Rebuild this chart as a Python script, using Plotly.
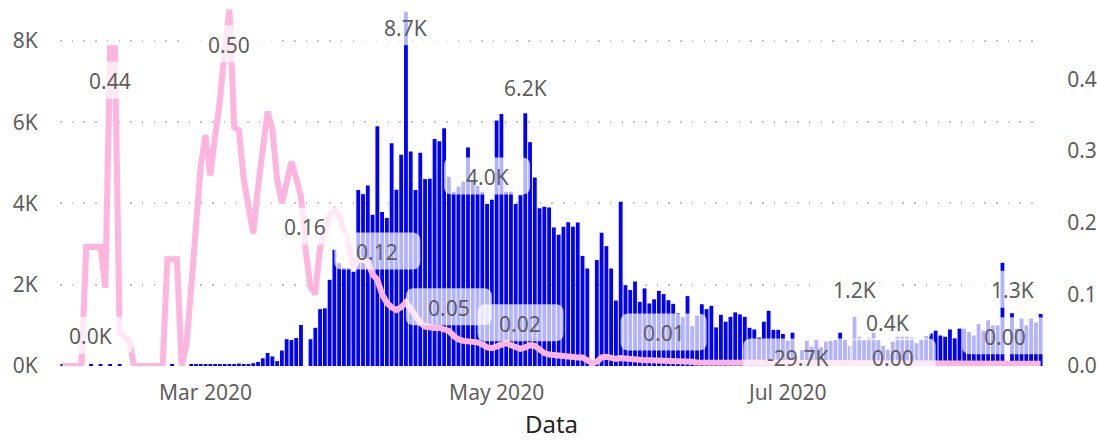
import pandas as pd
import plotly.graph_objects as go

# Daily new cases, one value per day starting 31 Jan 2020
daily_cases = [
    45, 0, 0, 45, 0, 0, 45, 0, 45, 0,
    45, 0, 45, 0, 0, 0, 0, 0, 0, 0,
    0, 0, 0, 45, 0, 0, 0, 40, 40, 45,
    45, 45, 45, 45, 45, 50, 50, 60, 40, 50,
    70, 100, 190, 320, 235, 120, 380, 660, 640, 690,
    1010, 0, 660, 940, 1400, 1420, 2120, 2860, 2530, 2410,
    2410, 2320, 4330, 4230, 4440, 3720, 5900, 3790, 3640, 5480,
    4340, 5200, 8720, 5280, 4330, 5250, 4600, 4610, 5590, 5530,
    5850, 4660, 4290, 4420, 4540, 5380, 4540, 4430, 4290, 3990,
    4090, 6040, 6200, 4290, 4290, 3990, 4200, 6220, 5510, 4640,
    3880, 3920, 3900, 3410, 3230, 3430, 3540, 3430, 3530, 2710,
    2400, 0, 2610, 3280, 2950, 2400, 1610, 4040, 1990, 1870,
    2080, 1580, 1910, 1540, 1640, 1850, 1770, 1620, 1530, 1300,
    1200, 1720, 980, 1240, 1520, 1400, 1480, 950, 1260, 1090,
    1210, 1320, 1270, 1210, 940, 900, 700, 1090, 1360, 890,
    890, 790, 620, 820, -29700, 390, 620, 480, 640, 460,
    600, 620, 640, 820, 640, 490, 1210, 720, 640, 700,
    820, 640, 490, 400, 600, 720, 720, 720, 700, 560,
    660, 740, 800, 870, 750, 720, 900, 680, 920, 920,
    840, 750, 1030, 870, 1130, 1000, 1000, 2540, 0, 1300,
    920, 1170, 1000, 1170, 1070, 1280,
]

# Daily ratio (secondary axis), same days
daily_ratio = [
    0, 0, 0, 0, 0, 0.166, 0.166, 0.166, 0.166, 0.109,
    0.443, 0.443, 0.046, 0.040, 0.036, 0, 0, 0, 0, 0,
    0, 0, 0.149, 0.149, 0.149, 0, 0.03, 0.11, 0.20, 0.28,
    0.322, 0.266, 0.32, 0.37, 0.44, 0.497, 0.333, 0.329, 0.26, 0.22,
    0.185, 0.25, 0.31, 0.355, 0.33, 0.26, 0.227, 0.26, 0.285, 0.262,
    0.236, 0.16, 0.11, 0.10, 0.165, 0.19, 0.21, 0.217, 0.21, 0.19,
    0.168, 0.138, 0.148, 0.148, 0.145, 0.128, 0.12, 0.10, 0.088, 0.082,
    0.078, 0.082, 0.089, 0.08, 0.068, 0.06, 0.055, 0.053, 0.053, 0.053,
    0.051, 0.049, 0.042, 0.037, 0.035, 0.035, 0.035, 0.033, 0.03, 0.026,
    0.025, 0.028, 0.031, 0.032, 0.029, 0.026, 0.024, 0.026, 0.029, 0.028,
    0.022, 0.018, 0.016, 0.015, 0.014, 0.013, 0.013, 0.012, 0.012, 0.012,
    0.008, 0.004, 0.006, 0.012, 0.013, 0.011, 0.010, 0.011, 0.010, 0.010,
    0.009, 0.009, 0.008, 0.008, 0.008, 0.007, 0.007, 0.007, 0.007, 0.006,
    0.006, 0.006, 0.006, 0.005, 0.005, 0.005, 0.005, 0.005, 0.005, 0.004,
    0.004, 0.004, 0.004, 0.004, 0.004, 0.004, 0.004, 0.004, 0.004, 0.004,
    0.004, 0.004, 0.003, 0.003, 0.003, 0.003, 0.003, 0.003, 0.003, 0.003,
    0.003, 0.003, 0.003, 0.003, 0.003, 0.003, 0.003, 0.003, 0.003, 0.003,
    0.003, 0.003, 0.003, 0.003, 0.003, 0.003, 0.003, 0.003, 0.003, 0.003,
    0.003, 0.003, 0.003, 0.003, 0.003, 0.003, 0.003, 0.003, 0.003, 0.003,
    0.003, 0.003, 0.003, 0.003, 0.003, 0.003, 0.004, 0.005, 0.003, 0.005,
    0.004, 0.003, 0.003, 0.003, 0.003, 0.003,
]

dates = pd.date_range("2020-01-31", periods=len(daily_cases), freq="D")

left_ticks = [0, 2000, 4000, 6000, 8000]
left_tick_text = ["0K", "2K", "4K", "6K", "8K"]
right_ticks = [0.0, 0.1, 0.2, 0.3, 0.4]
right_tick_text = ["0.0", "0.1", "0.2", "0.3", "0.4"]

# Which points carry a data label: (day index, x offset px, y offset px)
bar_labels = [(6, -1, 29), (72, 0, -15), (89, 0, 28), (97, 0, 26),
              (154, 0, 9), (166, 0, 28), (173, 0, 28), (199, 1, 24)]
ratio_labels = [(10, 0, -32), (35, 0, -34), (51, -1, 25), (66, 0, 29),
                (81, 0, 24), (96, 0, 26), (126, 0, 29), (174, 0, 7),
                (198, -2, 28)]

FONT = "Segoe UI, Noto Sans, sans-serif"
TEXT_GREY = "#605E5C"
BAR_BLUE = "#0000FF"
LINE_PINK = "#FFB5DE"

fig = go.Figure()
fig.add_trace(go.Bar(
    x=dates, y=daily_cases, marker=dict(color=BAR_BLUE, line=dict(width=0)),
    name="Casos", yaxis="y",
))
fig.add_trace(go.Scatter(
    x=dates, y=daily_ratio, mode="lines", yaxis="y2", name="Taxa",
    line=dict(color=LINE_PINK, width=6),
))


def rounded_box(w, h, dx, dy, r=8):
    x0, x1 = dx - w / 2, dx + w / 2
    y0, y1 = dy - h / 2, dy + h / 2
    return (f"M{x0 + r},{y0} L{x1 - r},{y0} Q{x1},{y0} {x1},{y0 + r} "
            f"L{x1},{y1 - r} Q{x1},{y1} {x1 - r},{y1} L{x0 + r},{y1} "
            f"Q{x0},{y1} {x0},{y1 - r} L{x0},{y0 + r} Q{x0},{y0} {x0 + r},{y0} Z")


def add_label(day, value, text, axis, dx, dy):
    anchor_y = max(value, 0)
    width = 22 + 11 * len(text) + 20
    fig.add_shape(
        type="path", xref="x", yref=axis, xsizemode="pixel", ysizemode="pixel",
        xanchor=dates[day], yanchor=anchor_y,
        path=rounded_box(width, 37, dx, dy),
        fillcolor="rgba(255,255,255,0.7)", line=dict(width=0), layer="above",
    )
    fig.add_annotation(
        x=dates[day], y=anchor_y, xref="x", yref=axis, text=text,
        showarrow=False, xshift=dx, yshift=dy - 1,
        xanchor="center", yanchor="middle",
        font=dict(family=FONT, size=21, color=TEXT_GREY),
    )


for day, dx, dy in bar_labels:
    v = daily_cases[day]
    add_label(day, v, f"{v / 1000:.1f}K", "y", dx, dy)

for day, dx, dy in ratio_labels:
    v = daily_ratio[day]
    add_label(day, v, f"{v:.2f}", "y2", dx, dy)

x_start = dates[0] - pd.Timedelta(hours=12)
x_end = dates[-1] + pd.Timedelta(hours=12)

fig.update_layout(
    width=1097, height=440,
    margin=dict(l=60, r=54, t=8, b=74),
    paper_bgcolor="white", plot_bgcolor="white",
    showlegend=False, bargap=0.2,
    font=dict(family=FONT, size=21, color=TEXT_GREY),
    xaxis=dict(
        type="date", range=[x_start, x_end], automargin=False,
        tick0="2020-03-01", dtick="M2", tickformat="%b %Y",
        showgrid=False, showline=False, zeroline=False,
        ticks="outside", ticklen=8, tickcolor="rgba(0,0,0,0)",
        tickfont=dict(family=FONT, size=21, color=TEXT_GREY),
        title=dict(text="Data", standoff=14,
                   font=dict(family=FONT, size=24, color="#252423")),
    ),
    yaxis=dict(
        range=[0, 8812], tickvals=left_ticks, ticktext=left_tick_text,
        automargin=False,
        showgrid=True, gridcolor="#C8C6C4", gridwidth=1.5,
        griddash="1.5px,10.2px", zeroline=False, showline=False,
        ticks="outside", ticklen=17, tickcolor="rgba(0,0,0,0)",
        tickfont=dict(family=FONT, size=21, color=TEXT_GREY),
    ),
    yaxis2=dict(
        range=[0, 0.4993], tickvals=right_ticks, ticktext=right_tick_text,
        overlaying="y", side="right", showgrid=False, zeroline=False,
        automargin=False,
        showline=False, ticks="outside", ticklen=19,
        tickcolor="rgba(0,0,0,0)",
        tickfont=dict(family=FONT, size=21, color=TEXT_GREY),
    ),
)

fig.write_html("out.html")
